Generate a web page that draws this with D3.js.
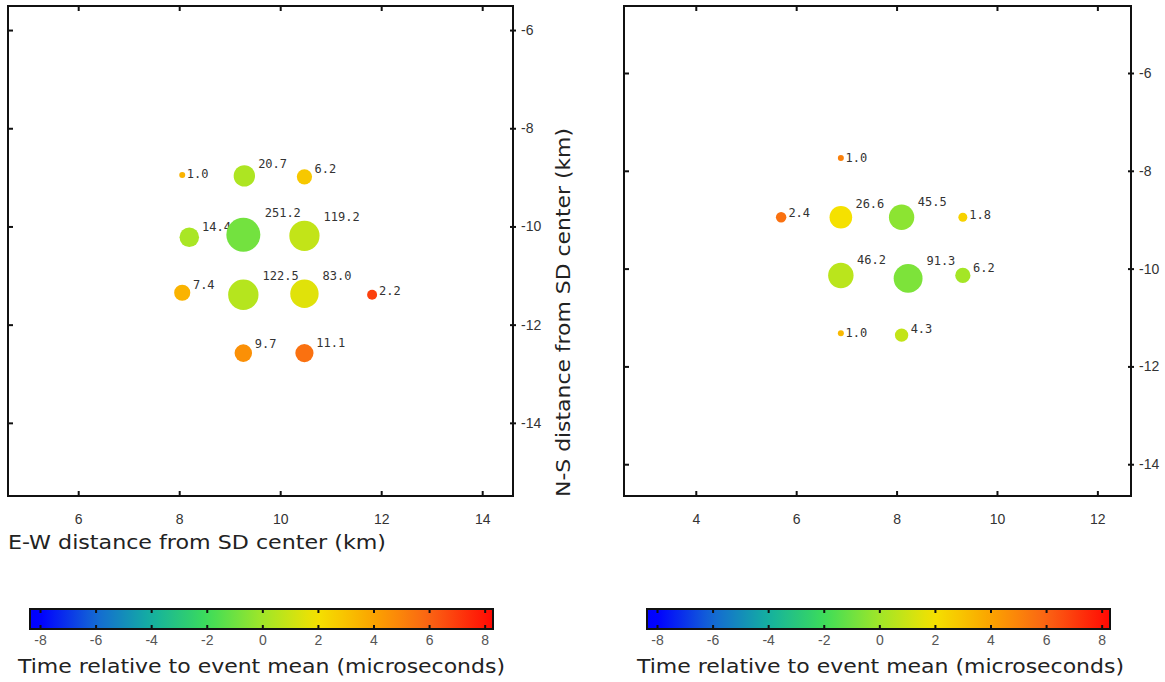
<!DOCTYPE html>
<html>
<head>
<meta charset="utf-8">
<script src="https://cdn.jsdelivr.net/npm/d3@7"></script>
<style>
  body { margin: 0; background: #fff; }
  svg { display: block; }
</style>
</head>
<body>
<script>
var width  = 1165;
var height = 682;

// left event
var leftX      = [ 8.06,  9.29, 10.48,  8.20,  9.27, 10.48,  8.06,  9.27, 10.48, 11.82,  9.27, 10.48];
var leftY      = [-8.95, -8.97, -8.99,-10.22,-10.17,-10.19,-11.35,-11.39,-11.37,-11.39,-12.58,-12.58];
var leftSignal = [  1.0,  20.7,   6.2,  14.4, 251.2, 119.2,   7.4, 122.5,  83.0,   2.2,   9.7,  11.1];
var leftTime   = [  3.5,   0.3,   2.8,   0.2,  -0.9,   0.8,   3.5,   0.5,   1.5,   6.9,   4.6,   5.6];

// right event
var rightX      = [ 6.89,  5.70,  6.89,  8.10,  9.32,  6.89,  8.23,  9.32,  6.89,  8.10];
var rightY      = [-7.74, -8.95, -8.95, -8.95, -8.95,-10.14,-10.20,-10.14,-11.32,-11.36];
var rightSignal = [  1.0,   2.4,  26.6,  45.5,   1.8,  46.2,  91.3,   6.2,   1.0,   4.3];
var rightTime   = [  5.1,   5.6,   2.0,  -0.4,   2.5,   0.6,  -0.7,   0.1,   3.3,   0.8];

var leftXTicks  = [6, 8, 10, 12, 14];
var rightXTicks = [4, 6, 8, 10, 12];
var yTicks      = [-6, -8, -10, -12, -14];
var colorTicks  = [-8, -6, -4, -2, 0, 2, 4, 6, 8];
var colorStops  = ['#0000ff', '#1468d4', '#14b0a0', '#3cdc5a', '#a0e628', '#f5e100', '#fba300', '#fa6414', '#ff1405'];

var tickFont  = '"Liberation Sans Narrow", "Liberation Sans", sans-serif';
var titleFont = '"DejaVu Sans", sans-serif';
var labelFont = '"DejaVu Sans Mono", monospace';

var color = d3.scaleLinear().domain(colorTicks).range(colorStops).interpolate(d3.interpolateRgb);
var radius = d3.scaleLog().domain([1, 251.2]).range([3, 17]);

var svg = d3.select('body')
            .append('svg')
            .attr('width', width)
            .attr('height', height);

function panel(opts) {
  var x = d3.scaleLinear().domain(opts.xDomain).range([opts.left, opts.right]);
  var y = d3.scaleLinear().domain(opts.yDomain).range([opts.bottom, opts.top]);
  var g = svg.append('g');

  var points = d3.range(opts.xs.length).map(function(i) {
    return { x: opts.xs[i], y: opts.ys[i], s: opts.signal[i], t: opts.time[i] };
  });

  // labels first, circles cover them where they overlap
  g.selectAll('text.lab')
   .data(points)
   .enter()
   .append('text')
   .attr('class', 'lab')
   .attr('x', function(d){ return x(d.x) + 1.2 * radius(d.s) + 1; })
   .attr('y', function(d){ return y(d.y) - 1.5 * radius(d.s) + 8; })
   .attr('font-family', labelFont)
   .attr('font-size', '12px')
   .attr('fill', '#333')
   .text(function(d){ return d.s.toFixed(1); });

  g.selectAll('circle')
   .data(points)
   .enter()
   .append('circle')
   .attr('cx', function(d){ return x(d.x); })
   .attr('cy', function(d){ return y(d.y); })
   .attr('r',  function(d){ return radius(d.s); })
   .attr('fill', function(d){ return color(d.t); });

  // inward ticks on left, top, bottom
  var fmtNone = function(){ return ''; };
  g.append('g').attr('transform', 'translate(' + opts.left + ',0)')
   .call(d3.axisRight(y).tickValues(yTicks).tickSize(5).tickFormat(fmtNone));
  g.append('g').attr('transform', 'translate(0,' + opts.top + ')')
   .call(d3.axisBottom(x).tickValues(opts.xTicks).tickSize(5).tickFormat(fmtNone));
  g.append('g').attr('transform', 'translate(0,' + opts.bottom + ')')
   .call(d3.axisTop(x).tickValues(opts.xTicks).tickSize(5).tickFormat(fmtNone));
  g.append('g').attr('transform', 'translate(' + opts.right + ',0)')
   .call(d3.axisLeft(y).tickValues(yTicks).tickSize(3).tickFormat(fmtNone));

  // labelled axes
  g.append('g').attr('class', 'lbl').attr('transform', 'translate(0,' + opts.bottom + ')')
   .call(d3.axisBottom(x).tickValues(opts.xTicks).tickSize(0).tickPadding(18)
           .tickFormat(function(d){ return String(d); }));
  g.append('g').attr('class', 'lbl').attr('transform', 'translate(' + opts.right + ',0)')
   .call(d3.axisRight(y).tickValues(yTicks).tickSize(3).tickPadding(5)
           .tickFormat(function(d){ return String(d); }));

  g.selectAll('.domain').remove();
  g.selectAll('.tick line').attr('stroke', '#111').attr('stroke-width', 2);
  g.selectAll('.lbl .tick text')
   .attr('font-family', tickFont)
   .attr('font-size', '14px')
   .attr('fill', '#333');

  g.append('rect')
   .attr('x', opts.left).attr('y', opts.top)
   .attr('width', opts.right - opts.left)
   .attr('height', opts.bottom - opts.top)
   .attr('fill', 'none')
   .attr('stroke', '#111')
   .attr('stroke-width', 2);
}

panel({
  left: 8, right: 513, top: 6, bottom: 496,
  xDomain: [4.61, 14.61], yDomain: [-15.49, -5.51],
  xTicks: leftXTicks,
  xs: leftX, ys: leftY, signal: leftSignal, time: leftTime
});

panel({
  left: 624, right: 1131, top: 6, bottom: 496,
  xDomain: [2.57, 12.67], yDomain: [-14.65, -4.63],
  xTicks: rightXTicks,
  xs: rightX, ys: rightY, signal: rightSignal, time: rightTime
});

svg.append('text')
   .attr('x', 8).attr('y', 549)
   .attr('font-family', titleFont).attr('font-size', '20px').attr('fill', '#222')
   .attr('textLength', 378).attr('lengthAdjust', 'spacingAndGlyphs')
   .text('E-W distance from SD center (km)');

svg.append('text')
   .attr('transform', 'translate(570,497) rotate(-90)')
   .attr('font-family', titleFont).attr('font-size', '19px').attr('fill', '#222')
   .attr('textLength', 369).attr('lengthAdjust', 'spacingAndGlyphs')
   .text('N-S distance from SD center (km)');

// colour bars
var defs = svg.append('defs');

function colorbar(id, x0, x1, titleX) {
  var cx = d3.scaleLinear().domain([-8.36, 8.3]).range([x0, x1]);
  var grad = defs.append('linearGradient').attr('id', id)
                 .attr('x1', '0%').attr('x2', '100%').attr('y1', '0%').attr('y2', '0%');
  var n = 40;
  d3.range(n + 1).forEach(function(i){
    var v = -8.36 + (8.3 + 8.36) * i / n;
    grad.append('stop').attr('offset', (100 * i / n) + '%').attr('stop-color', color(v));
  });

  var g = svg.append('g');
  g.append('rect')
   .attr('x', x0).attr('y', 609).attr('width', x1 - x0).attr('height', 20)
   .attr('fill', 'url(#' + id + ')');

  var fmtNone = function(){ return ''; };
  g.append('g').attr('transform', 'translate(0,609)')
   .call(d3.axisBottom(cx).tickValues(colorTicks).tickSize(4).tickFormat(fmtNone));
  g.append('g').attr('transform', 'translate(0,629)')
   .call(d3.axisTop(cx).tickValues(colorTicks).tickSize(4).tickFormat(fmtNone));
  g.append('g').attr('class', 'lbl').attr('transform', 'translate(0,629)')
   .call(d3.axisBottom(cx).tickValues(colorTicks).tickSize(0).tickPadding(6)
           .tickFormat(function(d){ return String(d); }));
  g.selectAll('.domain').remove();
  g.selectAll('.tick line').attr('stroke', '#111').attr('stroke-width', 2);
  g.selectAll('.lbl .tick text')
   .attr('font-family', tickFont).attr('font-size', '14px').attr('fill', '#555');

  g.append('rect')
   .attr('x', x0).attr('y', 609).attr('width', x1 - x0).attr('height', 20)
   .attr('fill', 'none').attr('stroke', '#111').attr('stroke-width', 2);

  svg.append('text')
     .attr('x', titleX).attr('y', 673)
     .attr('font-family', titleFont).attr('font-size', '20px').attr('fill', '#222')
     .attr('textLength', 487).attr('lengthAdjust', 'spacingAndGlyphs')
     .text('Time relative to event mean (microseconds)');
}

colorbar('cbLeft', 30, 493, 18);
colorbar('cbRight', 647, 1110, 637);
</script>
</body>
</html>
